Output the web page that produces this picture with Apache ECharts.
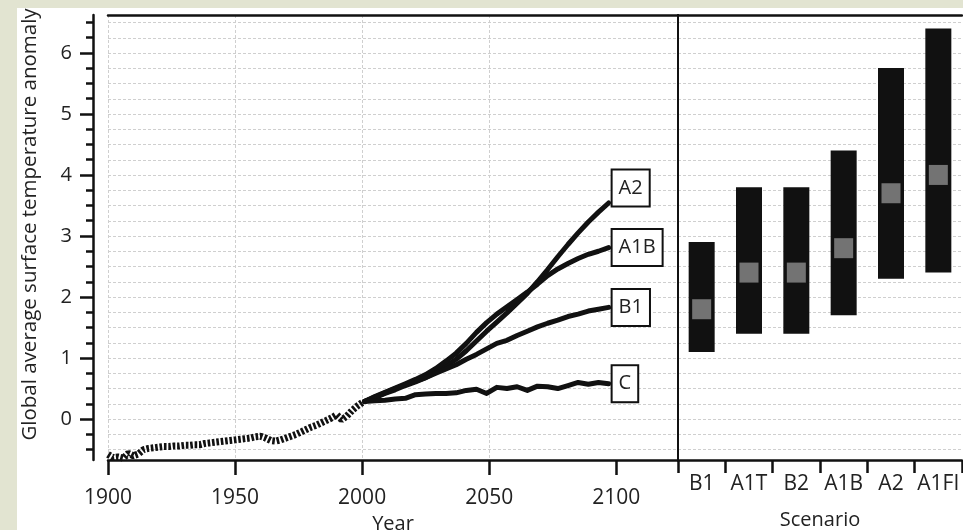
<!DOCTYPE html>
<html>
<head>
<meta charset="utf-8">
<script src="https://cdn.jsdelivr.net/npm/echarts@6/dist/echarts.min.js"></script>
<style>
  html, body { margin: 0; padding: 0; background: #e2e4d1; }
  #chart { width: 963px; height: 530px; }
</style>
</head>
<body>
<div id="chart"></div>
<script>
// Observed record, 1900-2000 (anomaly, deg C)
const histYears = [1900, 1902, 1904, 1906, 1908, 1910, 1912, 1914, 1916, 1918,
                   1920, 1922, 1924, 1926, 1928, 1930, 1932, 1934, 1936, 1938,
                   1940, 1942, 1944, 1946, 1948, 1950, 1952, 1954, 1956, 1958,
                   1960, 1962, 1964, 1966, 1968, 1970, 1972, 1974, 1976, 1978,
                   1980, 1982, 1984, 1986, 1988, 1990, 1992, 1994, 1996, 1998, 2000];
const histAnomaly = [-0.58, -0.63, -0.62, -0.64, -0.56, -0.60, -0.57, -0.50, -0.48, -0.47,
                     -0.46, -0.45, -0.45, -0.44, -0.44, -0.43, -0.43, -0.42, -0.42, -0.40,
                     -0.39, -0.38, -0.37, -0.36, -0.35, -0.34, -0.33, -0.32, -0.31, -0.29,
                     -0.28, -0.31, -0.35, -0.36, -0.34, -0.31, -0.28, -0.25, -0.21, -0.17,
                     -0.13, -0.10, -0.06, -0.02, 0.02, 0.07, -0.01, 0.05, 0.14, 0.21, 0.27];

// Model projections, 2001-2097
const projYears = [2001, 2005, 2009, 2013, 2017, 2021, 2025, 2029, 2033, 2037,
                   2041, 2045, 2049, 2053, 2057, 2061, 2065, 2069, 2073, 2077,
                   2081, 2085, 2089, 2093, 2097];
const projA2  = [0.29, 0.35, 0.42, 0.48, 0.55, 0.61, 0.68, 0.77, 0.87, 0.98,
                 1.12, 1.28, 1.44, 1.59, 1.74, 1.90, 2.06, 2.25, 2.45, 2.66,
                 2.86, 3.05, 3.23, 3.39, 3.54];
const projA1B = [0.29, 0.37, 0.44, 0.51, 0.58, 0.65, 0.73, 0.83, 0.95, 1.08,
                 1.24, 1.42, 1.58, 1.72, 1.84, 1.96, 2.08, 2.21, 2.35, 2.46,
                 2.55, 2.63, 2.70, 2.75, 2.81];
const projB1  = [0.29, 0.36, 0.43, 0.50, 0.56, 0.62, 0.68, 0.75, 0.82, 0.89,
                 0.98, 1.06, 1.15, 1.24, 1.29, 1.37, 1.44, 1.51, 1.57, 1.62,
                 1.68, 1.72, 1.77, 1.80, 1.83];
const projC   = [0.29, 0.30, 0.31, 0.33, 0.34, 0.40, 0.41, 0.42, 0.42, 0.43,
                 0.47, 0.49, 0.42, 0.52, 0.50, 0.53, 0.47, 0.54, 0.53, 0.50,
                 0.55, 0.60, 0.57, 0.60, 0.58];

// Warming by 2100 per scenario: likely range and best estimate
const scenarios    = ['B1', 'A1T', 'B2', 'A1B', 'A2', 'A1FI'];
const scenarioLow  = [1.1, 1.4, 1.4, 1.7, 2.3, 2.4];
const scenarioHigh = [2.9, 3.8, 3.8, 4.4, 5.75, 6.4];
const scenarioBest = [1.8, 2.4, 2.4, 2.8, 3.7, 4.0];

// Axis ticks
const yearTicks = [1900, 1950, 2000, 2050, 2100];
const tempTicks = [0, 1, 2, 3, 4, 5, 6];
const tempMinorTicks = [-0.5, -0.25, 0.25, 0.5, 0.75, 1.25, 1.5, 1.75, 2.25, 2.5, 2.75,
                        3.25, 3.5, 3.75, 4.25, 4.5, 4.75, 5.25, 5.5, 5.75, 6.25, 6.5];

const FONT = 'Open Sans';
const INK = '#111';
const TEXT = '#222';
const GRID_LINE = { color: '#cfcfcf', width: 1, type: [3, 2] };
const Y_MIN = -0.67, Y_MAX = 6.62;

const pairs = (xs, ys) => xs.map((x, i) => [x, ys[i]]);
const plain = (v) => String(v);

const boxLabel = (extra) => Object.assign({
  show: true,
  formatter: '{a}',
  fontFamily: FONT,
  fontSize: 20,
  lineHeight: 24,
  color: TEXT,
  backgroundColor: '#fff',
  borderColor: INK,
  borderWidth: 2,
  padding: [6, 6, 5, 6],
  distance: 4
}, extra || {});

const projLine = (name, values, labelExtra) => ({
  name: name,
  type: 'line',
  xAxisIndex: 0,
  yAxisIndex: 0,
  data: pairs(projYears, values),
  showSymbol: false,
  symbol: 'none',
  lineStyle: { color: INK, width: 5, join: 'round', cap: 'round' },
  endLabel: boxLabel(labelExtra),
  z: 3
});

const chart = echarts.init(document.getElementById('chart'));
chart.setOption({
  animation: false,
  backgroundColor: '#e2e4d1',
  textStyle: { fontFamily: FONT },
  graphic: [{
    type: 'rect',
    shape: { x: 17, y: 8, width: 946, height: 522 },
    style: { fill: '#fff' },
    z: -10,
    silent: true
  }],
  grid: [
    { left: 108, top: 15, width: 570, height: 445, outerBoundsMode: 'none', containLabel: false },
    { left: 678, top: 15, width: 284, height: 445, outerBoundsMode: 'none', containLabel: false },
    { left: 108, top: 7.25, width: 854, height: 457.5, outerBoundsMode: 'none', containLabel: false }
  ],
  xAxis: [
    {
      gridIndex: 0, type: 'value', position: 'bottom',
      min: 1900, max: 2124.3, interval: 50,
      name: 'Year', nameLocation: 'middle', nameGap: 50,
      nameTextStyle: { fontSize: 20, color: TEXT, fontFamily: FONT },
      axisLine: { show: true, onZero: false, lineStyle: { color: INK, width: 2.5 } },
      axisTick: { show: true, customValues: yearTicks, length: 15, lineStyle: { color: INK, width: 2.5 } },
      axisLabel: { customValues: yearTicks, formatter: plain, margin: 28, fontSize: 21, color: TEXT, fontFamily: FONT },
      splitLine: { show: true, showMaxLine: false, lineStyle: GRID_LINE }
    },
    {
      gridIndex: 0, type: 'value', position: 'top',
      min: 1900, max: 2124.3,
      axisLine: { show: true, onZero: false, lineStyle: { color: INK, width: 2.5 } },
      axisTick: { show: false }, axisLabel: { show: false }, splitLine: { show: false }
    },
    {
      gridIndex: 1, type: 'category', position: 'bottom',
      data: scenarios, boundaryGap: true,
      name: 'Scenario', nameLocation: 'middle', nameGap: 50,
      nameTextStyle: { fontSize: 20, color: TEXT, fontFamily: FONT },
      axisLine: { show: true, onZero: false, lineStyle: { color: INK, width: 2.5 } },
      axisTick: { show: true, length: 13, lineStyle: { color: INK, width: 2.5 } },
      axisLabel: { interval: 0, margin: 14, fontSize: 21, color: TEXT, fontFamily: FONT },
      splitLine: { show: false }
    },
    {
      gridIndex: 1, type: 'category', position: 'top',
      data: scenarios,
      axisLine: { show: true, onZero: false, lineStyle: { color: INK, width: 2.5 } },
      axisTick: { show: false }, axisLabel: { show: false }, splitLine: { show: false }
    },
    {
      gridIndex: 2, type: 'value', min: 0, max: 1, show: false,
      splitLine: { show: false }
    }
  ],
  yAxis: [
    {
      gridIndex: 0, type: 'value', position: 'left', offset: 15,
      min: Y_MIN, max: Y_MAX,
      name: 'Global average surface temperature anomaly',
      nameLocation: 'middle', nameGap: 52, nameRotate: 90,
      nameTextStyle: { fontSize: 20.5, color: TEXT, fontFamily: FONT, padding: [0, 0, 0, 26] },
      axisLine: { show: true, onZero: false, lineStyle: { color: INK, width: 2.5 } },
      axisTick: { show: true, customValues: tempTicks, length: 13, lineStyle: { color: INK, width: 2.5 } },
      axisLabel: { customValues: tempTicks, formatter: plain, margin: 21, fontSize: 20, color: TEXT, fontFamily: FONT },
      splitLine: { show: false }
    },
    {
      gridIndex: 0, type: 'value', position: 'left', offset: 15,
      min: Y_MIN, max: Y_MAX,
      axisLine: { show: false, onZero: false },
      axisTick: { show: true, customValues: tempMinorTicks, length: 7, lineStyle: { color: INK, width: 2.5 } },
      axisLabel: { show: false },
      splitLine: { show: false }
    },
    {
      gridIndex: 1, type: 'value', position: 'left',
      min: Y_MIN, max: Y_MAX,
      axisLine: { show: true, onZero: false, lineStyle: { color: INK, width: 2 } },
      axisTick: { show: false }, axisLabel: { show: false }, splitLine: { show: false }
    },
    {
      gridIndex: 2, type: 'value', min: -0.75, max: 6.75, interval: 0.25,
      axisLine: { show: false, onZero: false }, axisTick: { show: false }, axisLabel: { show: false },
      splitLine: { show: true, showMinLine: false, showMaxLine: false, lineStyle: GRID_LINE }
    }
  ],
  series: [
    {
      name: 'Observed',
      type: 'line',
      xAxisIndex: 0, yAxisIndex: 0,
      data: pairs(histYears, histAnomaly),
      showSymbol: false, symbol: 'none',
      lineStyle: { color: INK, width: 7, type: [2.6, 1.8], cap: 'butt' },
      z: 3
    },
    projLine('A2', projA2, { offset: [0, -15] }),
    projLine('A1B', projA1B),
    projLine('B1', projB1),
    projLine('C', projC),
    {
      name: 'range-base',
      type: 'bar',
      xAxisIndex: 2, yAxisIndex: 2,
      stack: 'range',
      barWidth: 26,
      data: scenarioLow,
      itemStyle: { color: 'rgba(0,0,0,0)' },
      silent: true
    },
    {
      name: 'Likely range',
      type: 'bar',
      xAxisIndex: 2, yAxisIndex: 2,
      stack: 'range',
      barWidth: 26,
      data: scenarioHigh.map((h, i) => +(h - scenarioLow[i]).toFixed(2)),
      itemStyle: { color: INK }
    },
    {
      name: 'Best estimate',
      type: 'scatter',
      xAxisIndex: 2, yAxisIndex: 2,
      data: scenarioBest,
      symbol: 'rect',
      symbolSize: [19, 20],
      itemStyle: { color: '#8c8c8c' },
      z: 4
    }
  ]
});
</script>
</body>
</html>
